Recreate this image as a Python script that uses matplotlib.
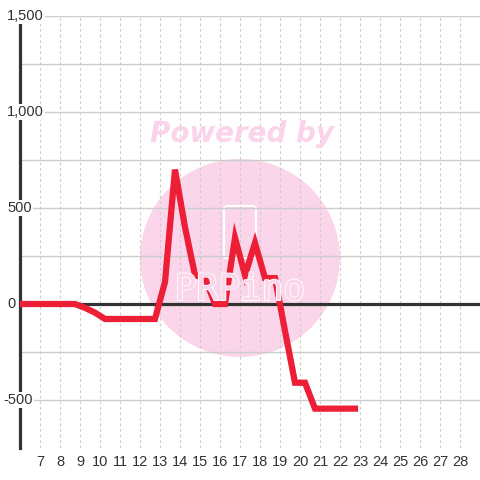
import matplotlib
matplotlib.use("Agg")
import matplotlib.pyplot as plt
from matplotlib.patches import Ellipse, FancyBboxPatch
import matplotlib.patheffects as pe
from matplotlib.transforms import blended_transform_factory

# data
x_vals = [5.75, 6.25, 6.75, 7.25, 7.75, 8.25, 8.75, 9.25, 9.75, 10.25, 10.75,
          11.25, 11.75, 12.25, 12.75, 13.25, 13.75, 14.25, 14.75, 15.25, 15.75,
          16.25, 16.75, 17.25, 17.75, 18.25, 18.75, 19.25, 19.75, 20.25, 20.75,
          21.25, 21.75, 22.25, 22.75]
y_vals = [0, 0, 0, 0, 0, 0, 0, -20, -45, -78, -78,
          -78, -78, -78, -78, 115, 700, 400, 150, 135, 0,
          0, 345, 150, 318, 135, 135, -140, -410, -410, -545,
          -545, -545, -545, -545]
x_ticks = list(range(7, 29))
y_ticks = [-500, 0, 500, 1000, 1500]
y_tick_labels = ["-500", "0", "500", "1,000", "1,500"]
y_label_px = [3, 7, 7, 7, 7]

plt.rcParams['font.family'] = ['Liberation Sans', 'DejaVu Sans']

fig = plt.figure(figsize=(4.8, 4.8), dpi=100)
fig.patch.set_facecolor('white')
W = H = 480.0
ax = fig.add_axes([20 / W, 32 / H, 460 / W, 432 / H])
ax.set_xlim(6, 29)
ax.set_ylim(-750, 1500)
ax.set_facecolor('white')

for s in ['top', 'right', 'bottom']:
    ax.spines[s].set_visible(False)
ax.spines['left'].set_color('#333333')
ax.spines['left'].set_linewidth(2.3)
ax.spines['left'].set_zorder(3)

# grid
for yv in range(-500, 1501, 250):
    ax.axhline(yv, color='#cccccc', lw=1.0, zorder=0.5)
for xv in x_ticks:
    ax.axvline(xv, color='#cccccc', lw=0.8, ls=(0, (2.5, 2.5)), zorder=0.5)
ax.axhline(0, color='#333333', lw=2.3, zorder=2)

# watermark
cx, cy = 240, 258
ax.add_patch(Ellipse((cx / W, 1 - cy / H), 200 / W, 198 / H, transform=fig.transFigure,
                     facecolor='#fbd6eb', edgecolor='none', zorder=0.1))
fig.text(242 / W, 1 - 134 / H, "Powered by", color='#fbd3ea', fontsize=20,
         fontweight='bold', fontstyle='italic', ha='center', va='center',
         family='DejaVu Sans', zorder=0.2)
ax.add_patch(FancyBboxPatch((224 / W, 1 - 258 / H), 32 / W, 52 / H,
                            boxstyle='round,pad=0,rounding_size=0.006',
                            transform=fig.transFigure, facecolor='none',
                            edgecolor='white', lw=1.5, zorder=0.3))
fig.text(240 / W, 1 - 290 / H, "PRPino", color='#fbd6eb', fontsize=26,
         ha='center', va='center', family='DejaVu Sans Mono', zorder=0.3,
         path_effects=[pe.withStroke(linewidth=1.5, foreground='white'),
                       pe.Normal()])

# line
ax.plot(x_vals, y_vals, color='#ed1f36', lw=4.5, solid_joinstyle='miter',
        solid_capstyle='projecting', zorder=4, clip_on=True)

# ticks
ax.set_xticks(x_ticks)
ax.set_xticklabels([str(v) for v in x_ticks], fontsize=10.5, color='#333333')
ax.tick_params(axis='x', length=0, pad=5)
ax.set_yticks([])
trans = blended_transform_factory(fig.transFigure, ax.transData)
for yv, lab, px in zip(y_ticks, y_tick_labels, y_label_px):
    ax.text(px / W, yv, lab, transform=trans, ha='left', va='center',
            fontsize=10.5, color='#333333', zorder=5, clip_on=False,
            bbox=dict(facecolor='white', edgecolor='none', pad=1.0))

fig.savefig('out.png', dpi=100)
